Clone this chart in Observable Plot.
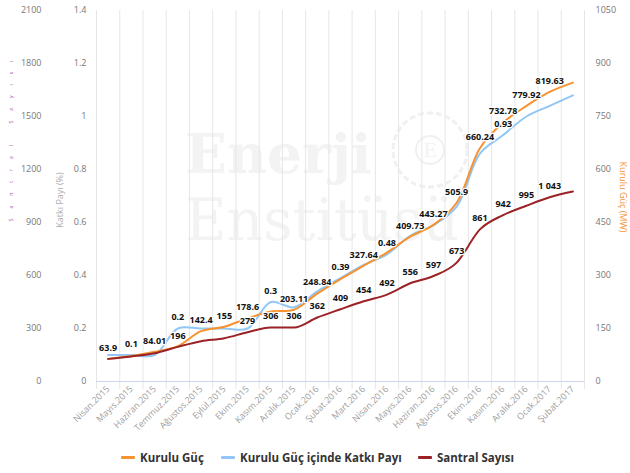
<!DOCTYPE html>
<html><head><meta charset="utf-8">
<script src="https://cdn.jsdelivr.net/npm/d3@7"></script>
<script src="https://cdn.jsdelivr.net/npm/@observablehq/plot@0.6"></script>
<style>
body{margin:0;background:#fff;font-family:"Open Sans",sans-serif;width:630px;height:473px;overflow:hidden}
#legend{position:relative;height:30px}
.item{position:absolute;top:7px;display:flex;align-items:center;font:bold 11.5px "Open Sans",sans-serif;color:#333}
.sw{display:inline-block;width:14px;height:3px;margin-right:5px;border-radius:1px}
</style></head><body><div id="chart"></div><div id="legend"></div>
<script>
const months = ["Nisan.2015","Mayıs.2015","Haziran.2015","Temmuz.2015","Ağustos.2015","Eylül.2015","Ekim.2015","Kasım.2015","Aralık.2015","Ocak.2016","Şubat.2016","Mart.2016","Nisan.2016","Mayıs.2016","Haziran.2016","Ağustos.2016","Ekim.2016","Kasım.2016","Aralık.2016","Ocak.2017","Şubat.2017"];
const kuruluGuc = [63.9,72,84.01,100,142.4,155,178.6,198,203.11,248.84,290,327.64,365,409.73,443.27,505.9,660.24,732.78,779.92,819.63,846];
const katkiPayi = [0.1,0.1,0.1,0.2,0.2,0.2,0.2,0.3,0.28,0.34,0.39,0.44,0.48,0.55,0.59,0.66,0.86,0.93,1.0,1.04,1.08];
const santralSayisi = [128,142,160,196,228,245,279,306,306,362,409,454,492,556,597,673,861,942,995,1043,1075];
const santralTicks = [0,300,600,900,1200,1500,1800,2100];
const katkiTicks = [0,0.2,0.4,0.6,0.8,1,1.2,1.4];
const gucTicks = [0,150,300,450,600,750,900,1050];
const gucLabelIdx = [0,2,4,5,6,8,9,11,13,14,15,16,17,18,19];
const katkiLabelIdx = [1,3,7,10,12,17];
const santralLabelIdx = [3,6,7,8,9,10,11,12,13,14,15,16,17,18,19];
const seriesNames = ["Kurulu Güç","Kurulu Güç içinde Katkı Payı","Santral Sayısı"];
const colors = ["#f7922f","#90c7f7","#9b2226"];

// axis ratios: santral axis max 2100, katkı max 1.4, güç max 1050
const kK = 2100/1.4, kG = 2100/1050;
const rows = months.map((m,i)=>({i, m, guc:kuruluGuc[i], katki:katkiPayi[i], santral:santralSayisi[i]}));
const fmtS = d3.formatLocale({decimal:".",thousands:" ",grouping:[3],currency:["",""]}).format(",");
const boundaries = d3.range(months.length+1).map(i=>i-0.5);
const lab = {fontWeight:"bold", fontSize:9, fill:"#111", stroke:"white", strokeWidth:2.5, dy:-11, textAnchor:"middle"};

const chart = Plot.plot({
  width:630, height:443, marginTop:10, marginBottom:62, marginLeft:96, marginRight:46,
  style:{fontFamily:"Open Sans", fontSize:"9px", background:"white"},
  x:{type:"linear", domain:[-0.5, months.length-0.5]},
  y:{domain:[0,2100]},
  marks:[
    Plot.ruleX(boundaries,{stroke:"#e6e6e6"}),
    Plot.axisX(boundaries,{tickSize:8, tickFormat:()=>"", stroke:"#e6e6e6", label:null}),
    Plot.ruleY([0],{stroke:"#ccd6eb"}),
    Plot.axisX(d3.range(months.length),{tickFormat:i=>months[i], tickRotate:-45, tickSize:0, tickPadding:6, fill:"#a0a0a0", fontSize:9, label:null}),
    Plot.axisY(santralTicks,{anchor:"left", tickSize:0, tickPadding:55, fill:"#777", tickFormat:d=>String(d), label:null}),
    Plot.axisY(katkiTicks.map(v=>v*kK),{anchor:"left", tickSize:0, tickPadding:10, fill:"#777", tickFormat:d=>String(+(d/kK).toFixed(2)), label:null}),
    Plot.axisY(gucTicks.map(v=>v*kG),{anchor:"right", tickSize:0, tickPadding:11, fill:"#777", tickFormat:d=>String(d/kG), label:null}),
    Plot.line(rows,{x:"i", y:d=>d.katki*kK, curve:"catmull-rom", stroke:colors[1], strokeWidth:2}),
    Plot.line(rows,{x:"i", y:d=>d.guc*kG, curve:"catmull-rom", stroke:colors[0], strokeWidth:2}),
    Plot.line(rows,{x:"i", y:"santral", curve:"monotone-x", stroke:colors[2], strokeWidth:2}),
    Plot.text(rows.filter(d=>gucLabelIdx.includes(d.i)),{x:"i", y:d=>d.guc*kG, text:d=>String(d.guc), ...lab}),
    Plot.text(rows.filter(d=>katkiLabelIdx.includes(d.i)),{x:"i", y:d=>d.katki*kK, text:d=>String(d.katki), ...lab}),
    Plot.text(rows.filter(d=>santralLabelIdx.includes(d.i)),{x:"i", y:"santral", text:d=>fmtS(d.santral), ...lab})
  ]
});
document.getElementById("chart").appendChild(chart);

// watermark + axis titles
const svg = d3.select(chart);
const wm = svg.insert("g","g");
wm.attr("fill","#f3f3f3").attr("font-family","DejaVu Serif").attr("text-anchor","start");
wm.append("text").attr("x",185).attr("y",173).attr("font-size",55).attr("font-weight","bold").text("Enerji");
wm.append("text").attr("x",185).attr("y",240).attr("font-size",57).text("Enstitüsü");
wm.append("circle").attr("cx",430).attr("cy",150).attr("r",37).attr("fill","none").attr("stroke","#f0f0f0").attr("stroke-width",3).attr("stroke-dasharray","6 3");
wm.append("circle").attr("cx",430).attr("cy",150).attr("r",14).attr("fill","none").attr("stroke","#f0f0f0").attr("stroke-width",2);
wm.append("text").attr("x",430).attr("y",157).attr("font-size",18).attr("text-anchor","middle").text("E");

svg.append("text").attr("transform","translate(60,200) rotate(-90)").attr("text-anchor","middle").attr("dy","0.35em")
  .attr("fill","#aaa").attr("font-size",9).attr("font-family","Open Sans").text("Katkı Payı (%)");
svg.append("text").attr("transform","translate(623,197) rotate(90)").attr("text-anchor","middle").attr("dy","0.35em")
  .attr("fill",colors[0]).attr("font-size",9).attr("font-family","Open Sans").text("Kurulu Güç (MW)");
svg.append("text").attr("transform","translate(11,136) rotate(-90)").attr("text-anchor","middle").attr("dy","0.35em")
  .attr("fill","#a23aa0").attr("font-size",5).attr("letter-spacing",10).attr("font-family","Open Sans").text(seriesNames[2]);

// legend
const lefts = [121,221,418];
const lg = d3.select("#legend");
seriesNames.forEach((n,k)=>{
  const it = lg.append("div").attr("class","item").style("left",lefts[k]+"px");
  it.append("span").attr("class","sw").style("background",colors[k]);
  it.append("span").text(n);
});
</script></body></html>
